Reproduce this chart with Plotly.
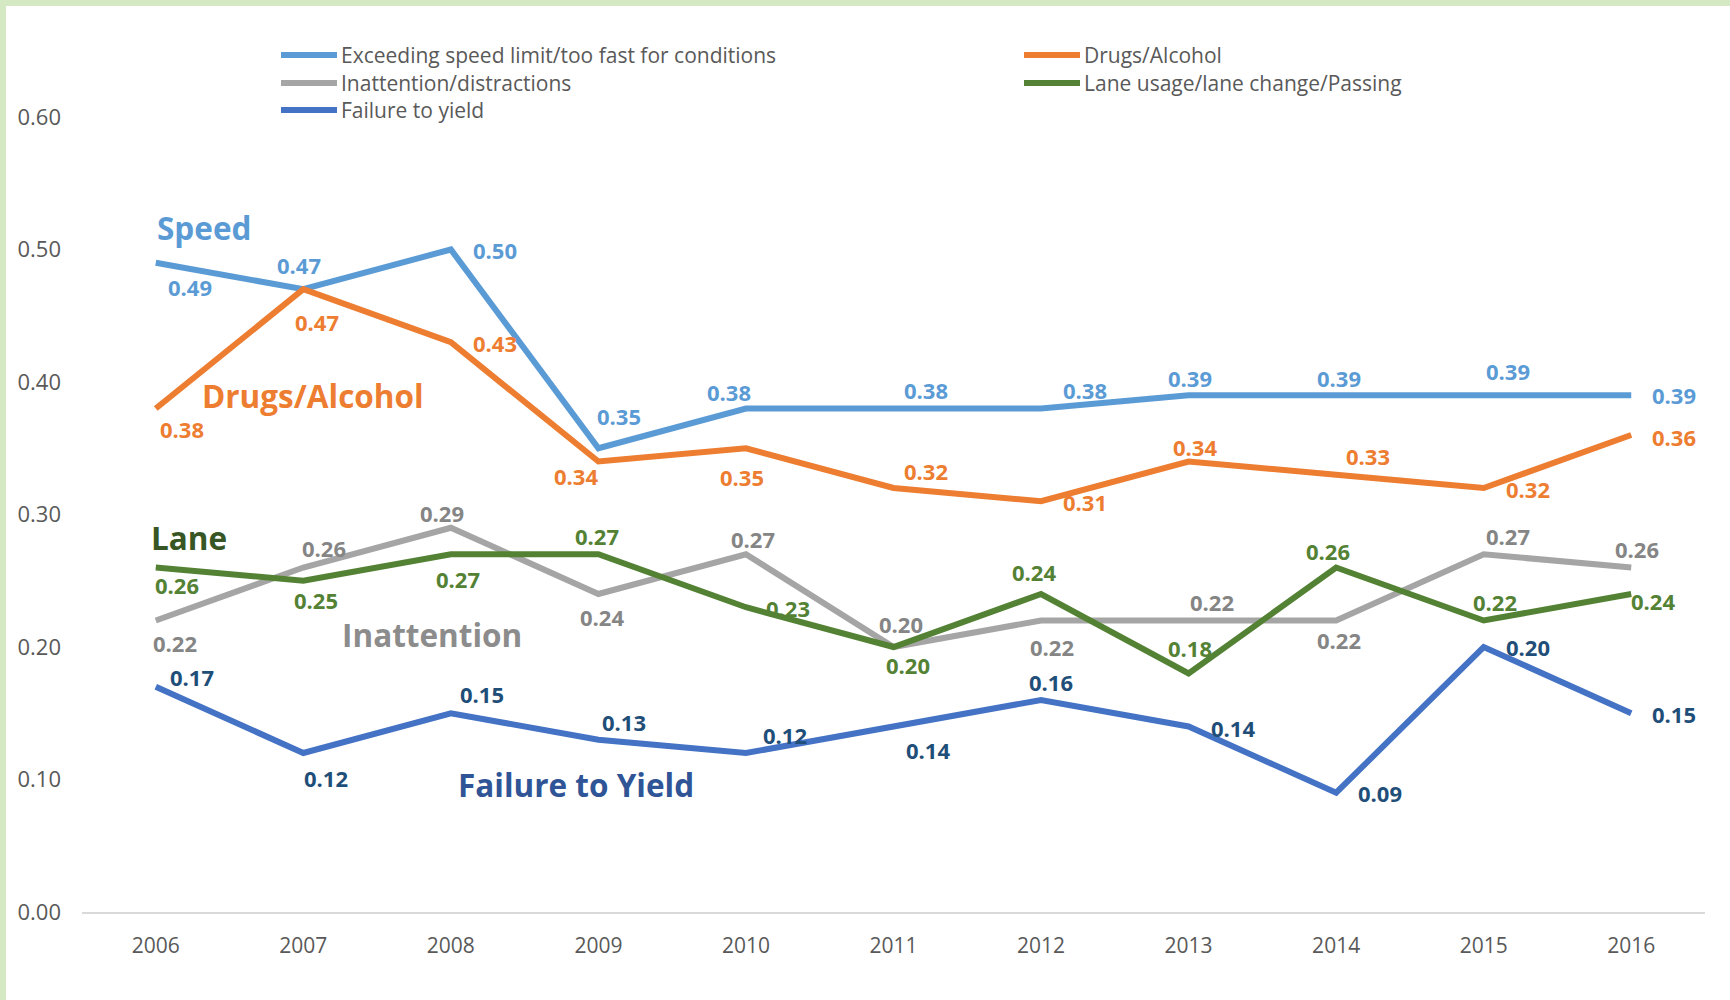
import plotly.graph_objects as go

years = [2006, 2007, 2008, 2009, 2010, 2011, 2012, 2013, 2014, 2015, 2016]

speed = [0.49, 0.47, 0.50, 0.35, 0.38, 0.38, 0.38, 0.39, 0.39, 0.39, 0.39]
drugs = [0.38, 0.47, 0.43, 0.34, 0.35, 0.32, 0.31, 0.34, 0.33, 0.32, 0.36]
inattention = [0.22, 0.26, 0.29, 0.24, 0.27, 0.20, 0.22, 0.22, 0.22, 0.27, 0.26]
lane = [0.26, 0.25, 0.27, 0.27, 0.23, 0.20, 0.24, 0.18, 0.26, 0.22, 0.24]
failure = [0.17, 0.12, 0.15, 0.13, 0.12, 0.14, 0.16, 0.14, 0.09, 0.20, 0.15]

legend_names = [
    "Exceeding speed limit/too fast for conditions",
    "Drugs/Alcohol",
    "Inattention/distractions",
    "Lane usage/lane change/Passing",
    "Failure to yield",
]

W, H = 1730, 1000
ML, MR, MT, MB = 82, 25, 117, 88
PW = W - ML - MR
PH = H - MT - MB
FONT = "Open Sans"


def px_x(px):
    return (px - ML) / PW


def px_y(py):
    return (H - MB - py) / PH


# (line colour, label colour, label offsets in px: dx right, dy down)
series = [
    (speed, "#5B9BD5", "#5B9BD5",
     [(34, 24), (-4, -24), (44, 0), (21, -32), (-17, -17), (32, -19),
      (44, -19), (1, -17), (3, -17), (24, -24), (43, 0)]),
    (drugs, "#ED7D31", "#ED7D31",
     [(26, 20), (14, 33), (44, 1), (-22, 14), (-4, 29), (32, -17),
      (44, 1), (6, -15), (32, -19), (44, 1), (43, 2)]),
    (inattention, "#A5A5A5", "#858585",
     [(19, 22), (21, -20), (-9, -15), (4, 23), (7, -15), (7, -23),
      (11, 26), (23, -19), (3, 19), (24, -18), (6, -19)]),
    (lane, "#548235", "#548235",
     [(21, 17), (13, 19), (7, 25), (-1, -18), (42, 1), (14, 18),
      (-7, -22), (1, -26), (-8, -17), (11, -19), (22, 7)]),
    (failure, "#4472C4", "#1F4E79",
     [(36, -10), (23, 25), (31, -19), (26, -18), (39, -18), (34, 23),
      (10, -18), (44, 1), (44, 0), (44, 0), (43, 1)]),
]

fig = go.Figure()
annotations = []
shapes = []

for (vals, lc, tc, offs), name in zip(series, legend_names):
    fig.add_trace(go.Scatter(
        x=years, y=vals, mode="lines", name=name,
        line=dict(color=lc, width=6), showlegend=False,
    ))
    for yr, v, (dx, dy) in zip(years, vals, offs):
        annotations.append(dict(
            x=yr, y=v, text=f"{v:.2f}", showarrow=False,
            xshift=dx, yshift=-dy,
            font=dict(family=FONT, size=22, color=tc, weight="bold"),
        ))

# big series names on the plot
big_labels = [
    ("Speed", 204, 228, "#5B9BD5"),
    ("Drugs/Alcohol", 313, 395, "#ED7D31"),
    ("Lane", 189, 537, "#375623"),
    ("Inattention", 432, 634, "#8C8C8C"),
    ("Failure to Yield", 576, 784, "#2F5597"),
]
for txt, cx, cy, col in big_labels:
    annotations.append(dict(
        x=px_x(cx), y=px_y(cy), xref="paper", yref="paper", text=txt,
        showarrow=False, xanchor="center", yanchor="middle",
        font=dict(family=FONT, size=31.5, color=col, weight="bold"),
    ))

# manual legend, two columns
legend_pos = [(281, 55), (1024, 55), (281, 83), (1024, 83), (281, 110)]
for (vals, lc, tc, offs), name, (lx, ly) in zip(series, legend_names, legend_pos):
    shapes.append(dict(
        type="line", xref="paper", yref="paper",
        x0=px_x(lx), x1=px_x(lx + 56), y0=px_y(ly), y1=px_y(ly),
        line=dict(color=lc, width=6),
    ))
    annotations.append(dict(
        x=px_x(lx + 58), y=px_y(ly), xref="paper", yref="paper", text=name,
        showarrow=False, xanchor="left", yanchor="middle",
        font=dict(family=FONT, size=21, color="#595959"),
    ))

# light green frame on top and left
shapes.append(dict(type="rect", xref="paper", yref="paper", layer="above",
                   x0=px_x(0), x1=px_x(W), y0=px_y(6), y1=px_y(0),
                   fillcolor="#D5E8C4", line=dict(width=0)))
shapes.append(dict(type="rect", xref="paper", yref="paper", layer="above",
                   x0=px_x(0), x1=px_x(6), y0=px_y(H), y1=px_y(0),
                   fillcolor="#D5E8C4", line=dict(width=0)))

fig.update_layout(
    width=W, height=H,
    margin=dict(l=ML, r=MR, t=MT, b=MB),
    plot_bgcolor="white", paper_bgcolor="white",
    font=dict(family=FONT, color="#595959"),
    annotations=annotations, shapes=shapes,
    xaxis=dict(
        range=[2005.5, 2016.5], tickvals=years,
        showgrid=False, zeroline=False,
        showline=True, linecolor="#D9D9D9", linewidth=2,
        ticks="", ticklabelstandoff=14,
        tickfont=dict(family=FONT, size=21, color="#595959"),
    ),
    yaxis=dict(
        range=[0, 0.6], tickvals=[0, 0.1, 0.2, 0.3, 0.4, 0.5, 0.6],
        tickformat=".2f", showgrid=False, zeroline=False, showline=False,
        ticks="", ticklabelstandoff=20,
        tickfont=dict(family=FONT, size=22, color="#595959"),
    ),
)

# drop the default page margin so the figure sits at the window's corner
fig.write_html("out.html", config={"displayModeBar": False},
               post_script="document.body.style.margin='0px';")
